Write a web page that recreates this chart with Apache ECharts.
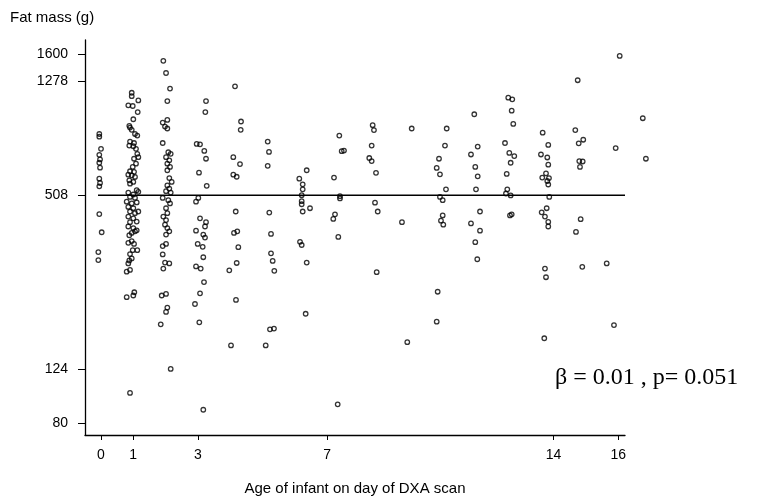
<!DOCTYPE html>
<html>
<head>
<meta charset="utf-8">
<script src="https://cdn.jsdelivr.net/npm/echarts@6/dist/echarts.min.js"></script>
<style>html,body{margin:0;padding:0;background:#fff}#c{width:758px;height:501px}</style>
</head>
<body>
<div id="c"></div>
<script>
// Age of infant (days) on day of DXA scan
const scanAge = [
 -0.047,-0.047,0.006,-0.047,-0.024,-0.047,-0.024,-0.047,-0.024,-0.047,-0.047,0.027,-0.077,-0.077,
 0.956,0.956,0.850,0.987,1.160,1.141,1.005,0.881,0.903,0.956,1.057,1.128,0.903,1.027,0.881,1.005,1.088,1.128,1.160,1.027,1.088,0.987,0.903,1.027,0.850,0.956,1.057,0.881,1.005,0.903,1.110,1.160,0.850,1.005,0.903,1.057,0.800,0.956,1.110,0.850,1.005,0.903,1.057,1.160,0.850,1.005,0.903,1.110,0.850,1.005,0.956,1.057,0.881,1.110,0.850,0.956,1.027,1.128,0.987,0.903,0.881,0.956,0.850,0.800,0.903,0.800,1.036,1.005,0.903,
 1.933,2.017,2.140,2.057,2.057,1.914,1.985,2.057,1.914,2.087,2.161,2.017,2.118,2.057,2.140,2.057,2.118,2.192,2.057,2.118,2.017,2.161,1.914,2.087,2.140,2.017,2.057,1.933,2.017,1.985,2.057,2.118,2.017,2.017,1.914,1.914,1.985,2.118,1.933,1.883,2.017,2.057,2.017,1.853,2.161,
 3.253,3.232,2.965,3.068,3.200,3.253,3.036,3.275,3.015,2.944,3.068,3.253,3.222,2.944,3.169,3.222,2.996,3.151,3.169,2.944,3.089,3.191,3.068,2.912,3.046,3.169,
 4.150,4.336,4.326,4.097,4.304,4.097,4.202,4.172,4.119,4.220,4.252,4.202,3.973,4.180,4.026,
 5.161,5.201,5.161,5.210,5.263,5.263,5.315,5.365,5.231,5.355,5.099,
 6.138,6.367,6.243,6.243,6.212,6.212,6.212,6.469,6.243,6.160,6.212,6.367,6.335,
 7.375,7.449,7.520,7.211,7.396,7.396,7.242,7.189,7.344,7.325,
 8.407,8.447,8.376,8.302,8.376,8.510,8.479,8.563,8.531,
 9.614,9.313,9.477,
 10.696,10.643,10.458,10.387,10.488,10.674,10.488,10.572,10.572,10.519,10.591,10.417,10.387,
 11.549,11.655,11.447,11.580,11.655,11.602,11.726,11.447,11.726,11.580,11.642,
 12.600,12.724,12.706,12.755,12.499,12.632,12.786,12.674,12.552,12.570,12.529,12.674,12.706,12.653,
 13.664,13.837,13.611,13.807,13.837,13.767,13.651,13.859,13.807,13.837,13.868,13.788,13.633,13.735,13.837,13.837,13.735,13.767,13.714,
 14.747,14.673,14.919,14.778,14.796,14.901,14.818,14.839,14.694,14.889,
 16.046,15.922,15.644,15.869,
 16.760,16.856
];
// Fat mass (g)
const fatMass = [
 835,817,740,705,679,661,635,581,561,546,436,376,320,300,
 1167,1135,1054,1048,1097,998,941,892,880,864,835,824,785,776,760,756,740,711,692,683,656,639,617,614,600,597,589,573,566,558,529,522,519,511,501,497,482,475,479,462,457,445,439,445,427,421,408,410,394,389,374,379,367,382,345,350,342,325,325,315,299,304,292,273,277,222,231,225,102,
 1513,1370,1207,1091,936,916,887,873,776,720,711,692,674,656,639,622,584,566,550,536,525,519,497,488,475,457,439,427,415,400,389,379,369,342,336,314,294,292,280,225,228,204,197,178,124,
 1091,998,770,768,728,683,610,548,497,482,421,408,394,381,369,360,342,334,307,285,280,251,229,210,181,89,
 1230,924,864,692,654,600,590,445,374,379,333,293,276,217,150,
 785,722,645,441,371,317,298,275,171,172,150,
 581,622,555,533,508,484,472,457,445,348,339,294,194,
 824,726,730,586,504,495,435,419,362,93,
 897,862,760,687,670,609,478,445,272,
 873,408,154,
 873,760,683,634,602,533,501,488,431,413,400,232,182,
 980,754,707,639,592,533,445,404,381,347,302,
 1121,1106,1009,906,776,716,698,661,604,533,515,507,435,431,
 844,764,707,690,651,606,586,584,570,554,501,457,442,427,409,394,280,261,159,
 1292,862,797,774,670,668,639,418,377,284,
 1574,745,292,177,
 949,683
];
const yTicks = [80, 124, 508, 1278, 1600];
const xTicks = [0, 1, 3, 7, 14, 16];
const refLine = [[-0.087, 508], [16.21, 508]];
const xTitle = 'Age of infant on day of DXA scan';
const yTitle = 'Fat mass (g)';
const statText = 'β = 0.01 , p= 0.051';

const points = scanAge.map((a, i) => [a, fatMass[i]]);
const chart = echarts.init(document.getElementById('c'), null, {renderer: 'canvas'});
const SANS = '"Liberation Sans", Arial, Helvetica, sans-serif';
chart.setOption({
  animation: false,
  backgroundColor: '#fff',
  grid: {left: 85, right: 133, top: 40, bottom: 62, containLabel: false},
  xAxis: {
    type: 'value', min: -0.489, max: 16.21,
    axisLine: {show: true, onZero: false, lineStyle: {color: '#000', width: 1.3}},
    axisTick: {show: true, length: 5, customValues: xTicks, lineStyle: {color: '#000', width: 1}},
    axisLabel: {customValues: xTicks, margin: 13, fontSize: 14, color: '#000', fontFamily: SANS},
    splitLine: {show: false},
    name: xTitle, nameLocation: 'middle', nameGap: 46,
    nameTextStyle: {fontSize: 15, color: '#000', fontFamily: SANS}
  },
  yAxis: {
    type: 'log', min: 72.5, max: 1791,
    axisLine: {show: true, onZero: false, lineStyle: {color: '#000', width: 1.3}},
    axisTick: {show: true, length: 7, customValues: yTicks, lineStyle: {color: '#000', width: 1}},
    axisLabel: {customValues: yTicks, margin: 17, fontSize: 14, color: '#000', fontFamily: SANS,
      formatter: v => String(Math.round(v))},
    splitLine: {show: false}
  },
  graphic: [
    {type: 'text', left: 10, top: 10, style: {text: yTitle, fontSize: 15, fill: '#000', fontFamily: SANS}},
    {type: 'text', left: 555, top: 366, style: {text: statText, fontSize: 24, fill: '#000',
      fontFamily: '"Liberation Serif", "DejaVu Serif", serif'}}
  ],
  series: [
    {type: 'line', data: refLine, symbol: 'none', silent: true,
     lineStyle: {color: '#000', width: 1.5}, z: 1},
    {type: 'scatter', data: points, symbol: 'circle', symbolSize: 4.5, z: 2, clip: false,
     itemStyle: {color: 'rgba(255,255,255,0)', borderColor: '#000', borderWidth: 1.3}}
  ]
});
</script>
</body>
</html>
